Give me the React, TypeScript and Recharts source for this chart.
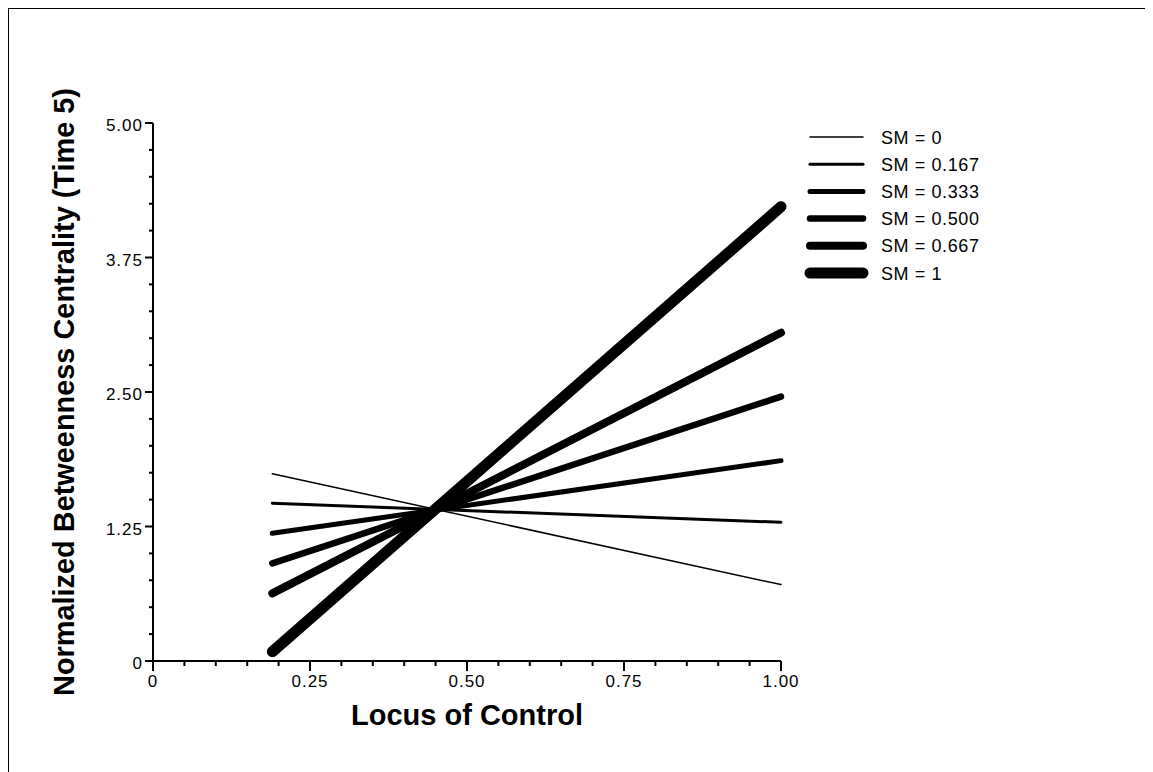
import React from "react";
import { LineChart, Line, XAxis, YAxis, Legend } from "recharts";

const locus = [0.19, 1.0];
const sm0 = [1.74, 0.71];
const sm167 = [1.466, 1.289];
const sm333 = [1.187, 1.862];
const sm500 = [0.908, 2.457];
const sm667 = [0.629, 3.051];
const sm1 = [0.086, 4.222];

const seriesNames = ["SM = 0", "SM = 0.167", "SM = 0.333", "SM = 0.500", "SM = 0.667", "SM = 1"];
const seriesKeys = ["sm0", "sm167", "sm333", "sm500", "sm667", "sm1"];
const seriesWidths = [1.5, 3, 5, 6.5, 8, 11];

const xTicks = [0, 0.05, 0.1, 0.15, 0.2, 0.25, 0.3, 0.35, 0.4, 0.45, 0.5, 0.55, 0.6, 0.65, 0.7, 0.75, 0.8, 0.85, 0.9, 0.95, 1];
const xLabels = ["0", "0.25", "0.50", "0.75", "1.00"];
const yTicks = [0, 0.25, 0.5, 0.75, 1, 1.25, 1.5, 1.75, 2, 2.25, 2.5, 2.75, 3, 3.25, 3.5, 3.75, 4, 4.25, 4.5, 4.75, 5];
const yLabels = ["0", "1.25", "2.50", "3.75", "5.00"];

const data = locus.map((x, i) => ({
  x,
  sm0: sm0[i],
  sm167: sm167[i],
  sm333: sm333[i],
  sm500: sm500[i],
  sm667: sm667[i],
  sm1: sm1[i],
}));

const FONT = "Arial, 'Liberation Sans', sans-serif";

function XTick(props: any) {
  const { x, y, index } = props;
  const major = index % 5 === 0;
  return (
    <g>
      <line x1={x} x2={x} y1={y} y2={y + (major ? 10 : 5)} stroke="#000" strokeWidth={2} />
      {major && (
        <text x={x} y={y + 26} textAnchor="middle" fontSize={17} letterSpacing={1} fontFamily={FONT} fill="#000">
          {xLabels[index / 5]}
        </text>
      )}
    </g>
  );
}

function YTick(props: any) {
  const { x, y, index } = props;
  const major = index % 5 === 0;
  return (
    <g>
      <line x1={x} x2={x - (major ? 8 : 4)} y1={y} y2={y} stroke="#000" strokeWidth={2} />
      {major && (
        <text x={x - 10} y={y + 8} textAnchor="end" fontSize={17} letterSpacing={1} fontFamily={FONT} fill="#000">
          {yLabels[index / 5]}
        </text>
      )}
    </g>
  );
}

function LegendBox() {
  return (
    <svg width={240} height={170}>
      {seriesNames.map((name, i) => {
        const cy = 13 + i * 27.2;
        return (
          <g key={name}>
            <line x1={11} x2={64} y1={cy} y2={cy} stroke="#000" strokeWidth={seriesWidths[i]} strokeLinecap="round" />
            <text x={82} y={cy + 6.5} fontSize={18} letterSpacing={0.6} fontFamily={FONT} fill="#000">
              {name}
            </text>
          </g>
        );
      })}
    </svg>
  );
}

export default function App() {
  return (
    <div style={{ borderLeft: "1px solid #000", borderTop: "1px solid #000", width: 1170, height: 790, background: "#fff" }}>
      <style>{"html,body{overflow:hidden}"}</style>
      <LineChart width={1130} height={750} data={data} margin={{ top: 114, right: 358, left: 0, bottom: 0 }}>
        <XAxis
          dataKey="x"
          type="number"
          domain={[0, 1]}
          ticks={xTicks}
          interval={0}
          height={98}
          tickSize={0}
          tickMargin={0}
          tickLine={false}
          axisLine={{ stroke: "#000", strokeWidth: 2 }}
          tick={(p: any) => <XTick {...p} />}
          label={{ value: "Locus of Control", position: "center", dy: 5, fontSize: 29, fontWeight: "bold", fontFamily: FONT, fill: "#000" }}
        />
        <YAxis
          type="number"
          domain={[0, 5]}
          ticks={yTicks}
          interval={0}
          width={144}
          tickSize={0}
          tickMargin={0}
          tickLine={false}
          axisLine={{ stroke: "#000", strokeWidth: 2 }}
          tick={(p: any) => <YTick {...p} />}
          label={{
            value: "Normalized Betweenness Centrality (Time 5)",
            angle: -90,
            position: "center",
            dx: -17,
            fontSize: 28.9,
            fontWeight: "bold",
            fontFamily: FONT,
            fill: "#000",
          }}
        />
        <Legend
          layout="horizontal"
          align="center"
          verticalAlign="middle"
          wrapperStyle={{ left: 790, top: 115, width: 240 }}
          content={() => <LegendBox />}
        />
        {seriesKeys.map((k, i) => (
          <Line
            key={k}
            dataKey={k}
            name={seriesNames[i]}
            type="linear"
            stroke="#000"
            strokeWidth={seriesWidths[i]}
            strokeLinecap="round"
            dot={false}
            activeDot={false}
            isAnimationActive={false}
          />
        ))}
      </LineChart>
    </div>
  );
}
